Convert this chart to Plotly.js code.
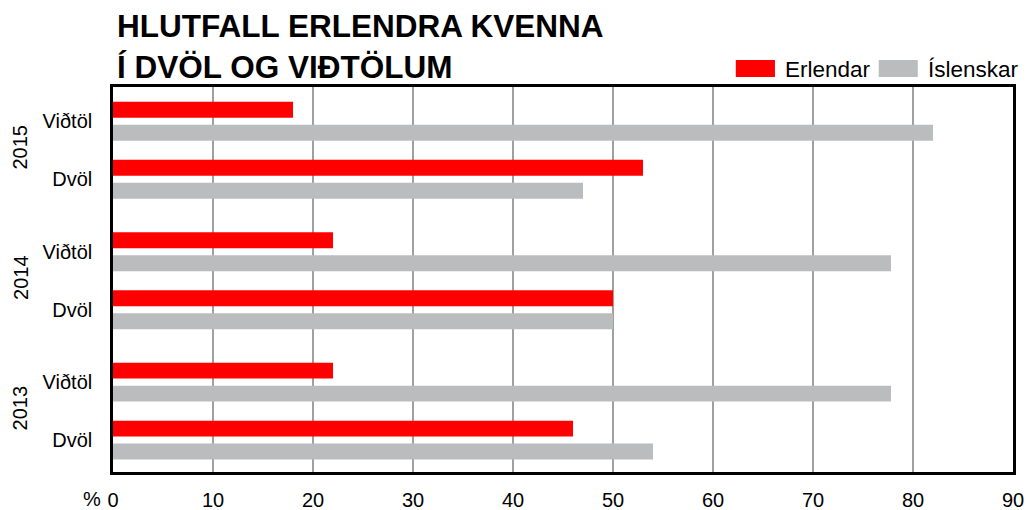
<!DOCTYPE html>
<html>
<head>
<meta charset="utf-8">
<script src="https://cdn.plot.ly/plotly-3.0.1.min.js"></script>
<style>html,body{margin:0;padding:0;background:#fff;}#chart{width:1029px;height:510px;}</style>
</head>
<body>
<div id="chart"></div>
<script>
// ---- data ----
const years = ['2015', '2014', '2013'];
const categories = ['Viðtöl', 'Dvöl'];
const erlendar = [18, 53, 22, 50, 22, 46];      // 2015 Viðtöl, 2015 Dvöl, 2014 Viðtöl, 2014 Dvöl, 2013 Viðtöl, 2013 Dvöl
const islenskar = [82, 47, 77.8, 50, 77.8, 54];
const seriesNames = ['Erlendar', 'Íslenskar'];
const xTicks = [0, 10, 20, 30, 40, 50, 60, 70, 80, 90];

// ---- positions on a numeric y axis (years separated by a wider gap) ----
const yearGap = 1.25;
const yPos = [], yText = [];
years.forEach((yr, gi) => {
  categories.forEach((c, ci) => {
    yPos.push(gi * (categories.length - 1 + yearGap) + ci);
    yText.push(c);
  });
});

const RED = '#ff0000', GREY = '#bbbcbe';
const FONT = 'Liberation Sans, Arial, Helvetica, sans-serif';

const traces = [
  {type: 'bar', orientation: 'h', name: seriesNames[0], x: erlendar, y: yPos,
   marker: {color: RED}, hoverinfo: 'x+name'},
  {type: 'bar', orientation: 'h', name: seriesNames[1], x: islenskar, y: yPos,
   marker: {color: GREY}, hoverinfo: 'x+name'}
];

const annotations = [];
years.forEach((yr, gi) => {
  const ys = yPos.slice(gi * categories.length, (gi + 1) * categories.length);
  const mid = ys.reduce((a, b) => a + b, 0) / ys.length;
  annotations.push({xref: 'paper', yref: 'y', x: -0.103, y: mid, text: yr, showarrow: false,
    textangle: -90, xanchor: 'center', yanchor: 'middle', yshift: 3,
    font: {family: FONT, size: 20, color: '#000'}});
});
// "%" unit before the 0 tick
annotations.push({xref: 'x', yref: 'paper', x: 0, y: -0.036, text: '%', showarrow: false,
  xanchor: 'right', yanchor: 'top', xshift: -10, font: {family: FONT, size: 20, color: '#000'}});

// custom legend (large swatches)
const legendY0 = 1.026, legendY1 = 1.070;
const shapes = [
  {type: 'rect', xref: 'paper', yref: 'paper', x0: 0.692, x1: 0.7355, y0: legendY0, y1: legendY1,
   fillcolor: RED, line: {width: 0}},
  {type: 'rect', xref: 'paper', yref: 'paper', x0: 0.8508, x1: 0.8942, y0: legendY0, y1: legendY1,
   fillcolor: GREY, line: {width: 0}}
];
annotations.push({xref: 'paper', yref: 'paper', x: 0.744, y: 1.046, text: seriesNames[0], showarrow: false,
  xanchor: 'left', yanchor: 'middle', font: {family: FONT, size: 22.5, color: '#000'}});
annotations.push({xref: 'paper', yref: 'paper', x: 0.903, y: 1.046, text: seriesNames[1], showarrow: false,
  xanchor: 'left', yanchor: 'middle', font: {family: FONT, size: 22.5, color: '#000'}});

const layout = {
  width: 1029, height: 510,
  margin: {l: 113, r: 16, t: 87, b: 38},
  paper_bgcolor: '#fff', plot_bgcolor: '#fff',
  showlegend: false,
  barmode: 'group', bargap: 0.207, bargroupgap: 0.305,
  title: {text: 'HLUTFALL ERLENDRA KVENNA<br>Í DVÖL OG VIÐTÖLUM', xref: 'container', yref: 'container',
    x: 0.1137, xanchor: 'left', y: 0.927, yanchor: 'top',
    font: {family: FONT, size: 31.5, color: '#000', weight: 'bold'}},
  xaxis: {range: [0, 90], tickvals: xTicks, ticktext: xTicks.map(String),
    showgrid: true, gridcolor: '#a0a0a0', gridwidth: 2, zeroline: false,
    showline: true, mirror: true, linecolor: '#000', linewidth: 2.5,
    ticks: '', ticklabelstandoff: 8, tickfont: {family: FONT, size: 20, color: '#000'}, fixedrange: true},
  yaxis: {range: [yPos[yPos.length - 1] + 0.55, -0.59], tickvals: yPos, ticktext: yText,
    showgrid: false, zeroline: false, showline: true, mirror: true, linecolor: '#000', linewidth: 2.5,
    ticks: '', ticklabelstandoff: 14, tickfont: {family: FONT, size: 20, color: '#000'}, fixedrange: true},
  annotations: annotations,
  shapes: shapes
};

Plotly.newPlot('chart', traces, layout, {displayModeBar: false, staticPlot: false});
</script>
</body>
</html>
